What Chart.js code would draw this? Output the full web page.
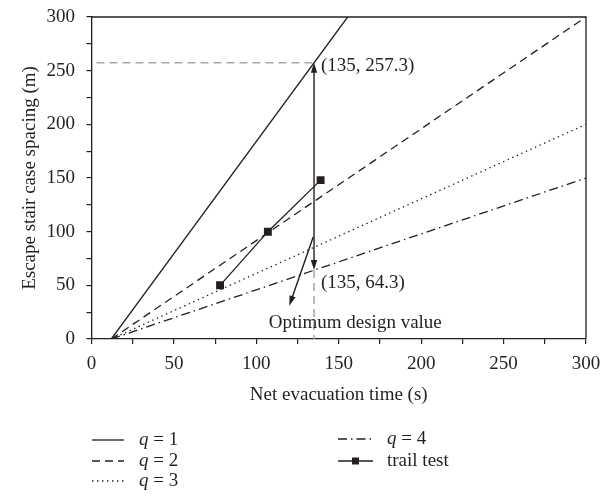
<!DOCTYPE html>
<html>
<head>
<meta charset="UTF-8">
<title>Escape stair case spacing</title>
<script src="https://cdn.jsdelivr.net/npm/chart.js@4"></script>
<style>
  html, body { margin: 0; padding: 0; background: #fff; }
  #wrap { width: 600px; height: 502px; }
</style>
</head>
<body>
<div id="wrap"><canvas id="myChart" width="600" height="502"></canvas></div>
<script>
// design lines, start / end (x: s, y: m)
var q1 = [{x: 12, y: 0}, {x: 155.4, y: 300}];
var q2 = [{x: 12, y: 0}, {x: 300, y: 300}];
var q3 = [{x: 12, y: 0}, {x: 300, y: 200}];
var q4 = [{x: 12, y: 0}, {x: 300, y: 150}];
var trail = [{x: 78, y: 50}, {x: 107, y: 100}, {x: 139, y: 148}];

var legendNames = ['1', '2', '3', '4', 'trail test'];
var majorTicks = [0, 50, 100, 150, 200, 250, 300];

// marked points and arrows
var upperPt = {x: 135, y: 257.3};
var lowerPt = {x: 135, y: 64.3};
var optFrom = {x: 134.5, y: 95};
var optTo = {x: 120, y: 31};
var refH = [{x: 3, y: 257.3}, {x: 135, y: 257.3}];
var refV = [{x: 135, y: 64.3}, {x: 135, y: 0}];
var noteTexts = ['(135, 257.3)', '(135, 64.3)', 'Optimum design value'];

var ink = '#231f20';
var serif = "'Liberation Serif', 'DejaVu Serif', serif";

function arrowHead(ctx, x1, y1, x2, y2) {
  var a = Math.atan2(y2 - y1, x2 - x1);
  var len = 10, half = 3.2;
  ctx.beginPath();
  ctx.moveTo(x2, y2);
  ctx.lineTo(x2 - len * Math.cos(a) + half * Math.sin(a), y2 - len * Math.sin(a) - half * Math.cos(a));
  ctx.lineTo(x2 - len * Math.cos(a) - half * Math.sin(a), y2 - len * Math.sin(a) + half * Math.cos(a));
  ctx.closePath();
  ctx.fill();
}

var extras = {
  id: 'extras',
  afterDatasetsDraw: function(chart) {
    var ctx = chart.ctx, xs = chart.scales.x, ys = chart.scales.y, a = chart.chartArea;
    ctx.save();
    // frame top + right
    ctx.strokeStyle = ink;
    ctx.lineWidth = 1.3;
    ctx.beginPath();
    ctx.moveTo(a.left, a.top);
    ctx.lineTo(a.right, a.top);
    ctx.lineTo(a.right, a.bottom);
    ctx.stroke();

    ctx.fillStyle = ink;
    ctx.lineWidth = 1.4;
    // double arrow between the two marked points
    var ux = xs.getPixelForValue(upperPt.x), uy = ys.getPixelForValue(upperPt.y);
    var lx = xs.getPixelForValue(lowerPt.x), ly = ys.getPixelForValue(lowerPt.y);
    ctx.beginPath();
    ctx.moveTo(ux, uy + 6);
    ctx.lineTo(lx, ly - 6);
    ctx.stroke();
    arrowHead(ctx, lx, ly, ux, uy);
    arrowHead(ctx, ux, uy, lx, ly);
    // arrow to optimum design value
    var fx = xs.getPixelForValue(optFrom.x), fy = ys.getPixelForValue(optFrom.y);
    var tx = xs.getPixelForValue(optTo.x), ty = ys.getPixelForValue(optTo.y);
    ctx.beginPath();
    ctx.moveTo(fx, fy);
    ctx.lineTo(tx + (fx - tx) * 0.12, ty + (fy - ty) * 0.12);
    ctx.stroke();
    arrowHead(ctx, fx, fy, tx, ty);

    // notes
    ctx.font = '19px ' + serif;
    ctx.textBaseline = 'middle';
    ctx.textAlign = 'left';
    ctx.fillText(noteTexts[0], ux + 7, uy + 3);
    ctx.fillText(noteTexts[1], lx + 7, ly + 13);
    ctx.textAlign = 'center';
    ctx.fillText(noteTexts[2], xs.getPixelForValue(160), ys.getPixelForValue(15));
    ctx.restore();
  },
  afterDraw: function(chart) {
    var ctx = chart.ctx;
    var ds = chart.data.datasets;
    var spots = [
      {i: 0, lx: 92, rx: 124, tx: 139, y: 440},
      {i: 1, lx: 92, rx: 124, tx: 139, y: 461},
      {i: 2, lx: 92, rx: 124, tx: 139, y: 481},
      {i: 3, lx: 338, rx: 373, tx: 387, y: 439},
      {i: 4, lx: 338, rx: 373, tx: 387, y: 461}
    ];
    ctx.save();
    ctx.strokeStyle = ink;
    ctx.fillStyle = ink;
    ctx.textBaseline = 'middle';
    spots.forEach(function(s) {
      var d = ds[s.i];
      ctx.lineWidth = d.borderWidth;
      ctx.setLineDash(d.borderDash || []);
      ctx.beginPath();
      ctx.moveTo(s.lx, s.y);
      ctx.lineTo(s.rx, s.y);
      ctx.stroke();
      ctx.setLineDash([]);
      if (s.i === 4) {
        var m = (s.lx + s.rx) / 2;
        ctx.fillRect(m - 3.5, s.y - 3.5, 7, 7);
        ctx.font = '19px ' + serif;
        ctx.fillText(legendNames[s.i], s.tx, s.y);
      } else {
        ctx.font = 'italic 19px ' + serif;
        ctx.fillText('q', s.tx, s.y);
        var w = ctx.measureText('q').width;
        ctx.font = '19px ' + serif;
        ctx.fillText(' = ' + legendNames[s.i], s.tx + w, s.y);
      }
    });
    ctx.restore();
  }
};

function lineSet(data, dash, width) {
  return {
    data: data, borderColor: ink, backgroundColor: ink, borderWidth: width,
    borderDash: dash, pointRadius: 0, fill: false, tension: 0
  };
}

var trailSet = lineSet(trail, [], 1.3);
trailSet.pointRadius = 5.6;
trailSet.pointStyle = 'rect';
trailSet.pointBackgroundColor = ink;
trailSet.pointBorderWidth = 0;

var refHSet = lineSet(refH, [8, 5], 1.5);
refHSet.borderColor = '#a6a6a6';
var refVSet = lineSet(refV, [8, 5], 1.5);
refVSet.borderColor = '#a6a6a6';

var config = {
  type: 'line',
  data: {
    datasets: [
      lineSet(q1, [], 1.3),
      lineSet(q2, [8, 5], 1.3),
      lineSet(q3, [1.4, 3.6], 1.3),
      lineSet(q4, [9, 4, 1.5, 4], 1.3),
      trailSet,
      refHSet,
      refVSet
    ]
  },
  options: {
    responsive: false,
    animation: false,
    events: [],
    layout: { padding: { top: 17, right: 14, bottom: 95.6, left: 0 } },
    plugins: { legend: { display: false }, tooltip: { enabled: false } },
    scales: {
      x: {
        type: 'linear', min: 0, max: 300,
        ticks: {
          stepSize: 25, autoSkip: false, maxRotation: 0, padding: 9, color: ink,
          font: { family: serif, size: 19 },
          callback: function(v) { return majorTicks.indexOf(v) >= 0 ? String(v) : ''; }
        },
        grid: { drawOnChartArea: false, tickLength: 5, color: ink, lineWidth: 1.2 },
        border: { color: ink, width: 1.3 },
        title: {
          display: true, text: 'Net evacuation time (s)', color: ink,
          font: { family: serif, size: 19 }, padding: { top: 0, bottom: 0 }
        },
        afterFit: function(s) { s.height = 67.4; s.paddingLeft = 0; s.paddingRight = 0; }
      },
      y: {
        type: 'linear', min: 0, max: 300,
        ticks: {
          stepSize: 25, autoSkip: false, padding: 11.5, color: ink,
          font: { family: serif, size: 19 },
          callback: function(v) { return majorTicks.indexOf(v) >= 0 ? String(v) : ''; }
        },
        grid: { drawOnChartArea: false, tickLength: 5, color: ink, lineWidth: 1.2 },
        border: { color: ink, width: 1.3 },
        title: {
          display: true, text: 'Escape stair case spacing (m)', color: ink,
          font: { family: serif, size: 19 }, padding: { top: 18.6, bottom: 0 }
        },
        afterFit: function(s) { s.width = 91.5; s.paddingTop = 0; s.paddingBottom = 0; }
      }
    }
  },
  plugins: [extras]
};

var myChart = new Chart(document.getElementById('myChart').getContext('2d'), config);
</script>
</body>
</html>
